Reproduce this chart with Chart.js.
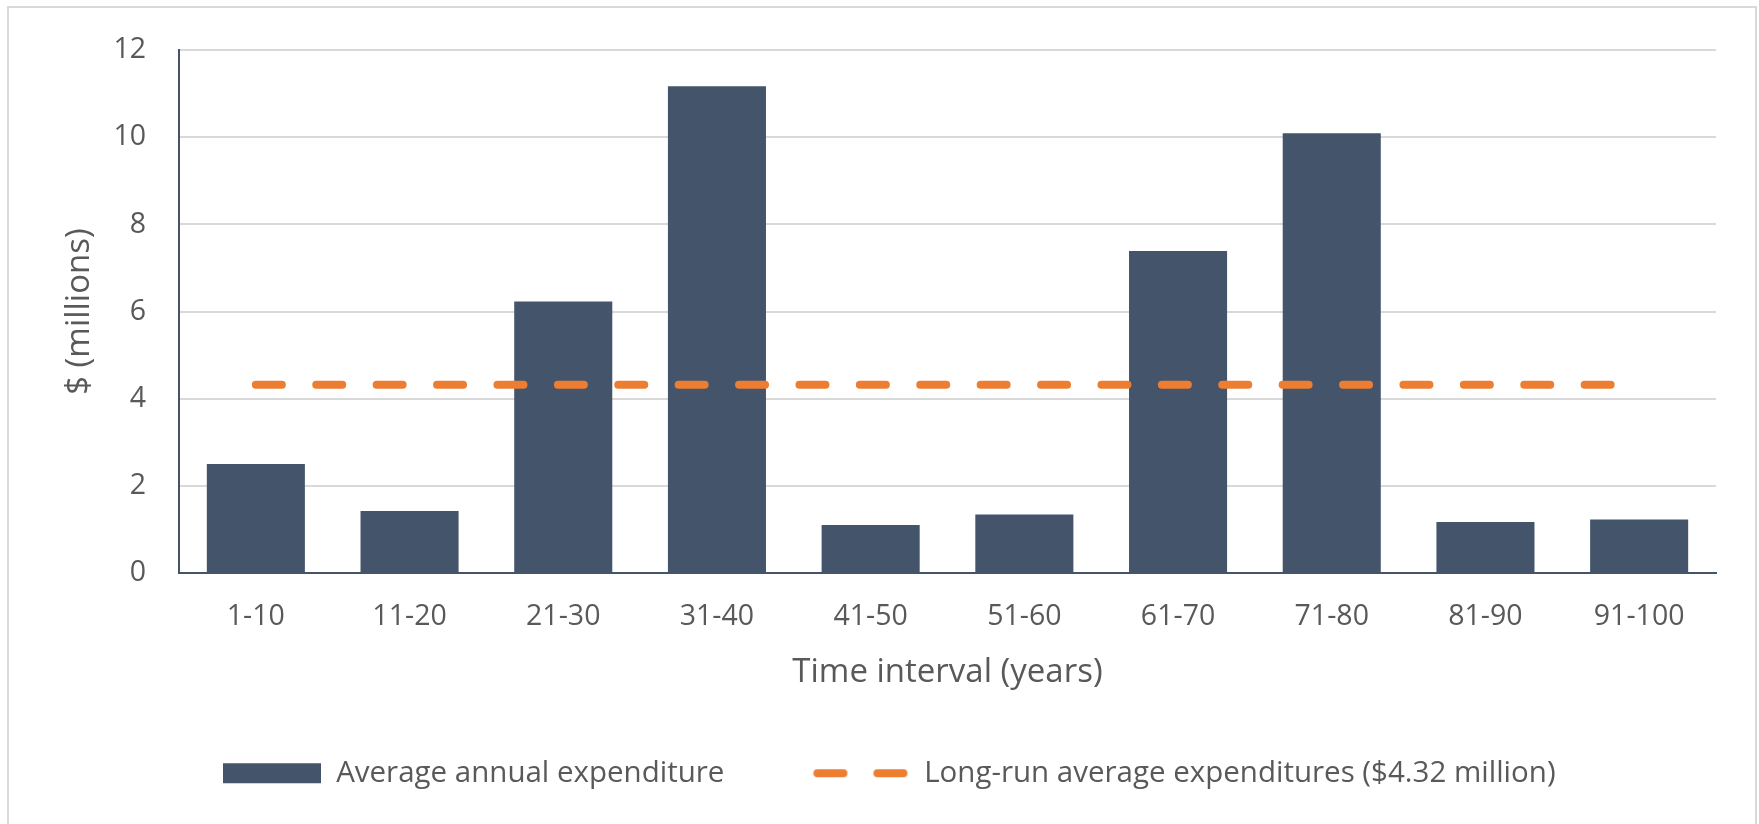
<!DOCTYPE html>
<html>
<head>
<meta charset="utf-8">
<title>Average annual expenditure by time interval</title>
<script src="https://cdn.jsdelivr.net/npm/chart.js@4/dist/chart.umd.min.js"></script>
<style>
  html, body { margin: 0; padding: 0; background: #fff; overflow: hidden; }
  #wrap { position: relative; width: 1759px; height: 824px; }
  #frame { position: absolute; left: 7px; top: 6px; width: 1746px; height: 900px; border: 2px solid #d9d9d9; }
  #chart { position: absolute; left: 0; top: 0; }
</style>
</head>
<body>
<div id="wrap">
  <div id="frame"></div>
  <canvas id="chart" width="1759" height="824"></canvas>
</div>
<script>
// Chart data
const intervals = ['1-10', '11-20', '21-30', '31-40', '41-50', '51-60', '61-70', '71-80', '81-90', '91-100'];
const annualExpenditure = [2.5, 1.42, 6.23, 11.17, 1.1, 1.34, 7.39, 10.09, 1.17, 1.23];
const longRunAverage = [4.32, 4.32, 4.32, 4.32, 4.32, 4.32, 4.32, 4.32, 4.32, 4.32];
const barLabel = 'Average annual expenditure';
const lineLabel = 'Long-run average expenditures ($4.32 million)';

const slate = '#44546A';
const orange = '#ED7D31';
const textGrey = '#595959';
const family = '"Open Sans", sans-serif';
const tickFont = { family, size: 28.5 };
const titleFont = { family, size: 33 };
const legendFont = { family, size: 29.5 };

// Legend swatches: a solid block and two rounded dashes
function makeSwatch(draw) {
  const c = document.createElement('canvas');
  c.width = 98;
  c.height = 22;
  draw(c.getContext('2d'));
  return c;
}
const barSwatch = makeSwatch(ctx => {
  ctx.fillStyle = slate;
  ctx.fillRect(0, 1, 98, 20);
});
const lineSwatch = makeSwatch(ctx => {
  ctx.strokeStyle = orange;
  ctx.lineWidth = 8;
  ctx.lineCap = 'round';
  ctx.beginPath();
  ctx.moveTo(6, 11); ctx.lineTo(32, 11);
  ctx.moveTo(66, 11); ctx.lineTo(92, 11);
  ctx.stroke();
});
const swatches = [barSwatch, lineSwatch];

const ctx = document.getElementById('chart').getContext('2d');
new Chart(ctx, {
  type: 'bar',
  data: {
    labels: intervals,
    datasets: [
      {
        label: barLabel,
        data: annualExpenditure,
        backgroundColor: slate,
        borderWidth: 0,
        categoryPercentage: 1,
        barPercentage: 0.638,
        order: 1
      },
      {
        type: 'line',
        label: lineLabel,
        data: longRunAverage,
        borderColor: orange,
        borderWidth: 8,
        borderDash: [26, 34.4],
        borderCapStyle: 'round',
        pointRadius: 0,
        fill: false,
        order: 0
      }
    ]
  },
  options: {
    responsive: false,
    animation: false,
    layout: {
      padding: { left: 63, right: 43, top: 48, bottom: 26 }
    },
    plugins: {
      tooltip: { enabled: false },
      legend: {
        position: 'bottom',
        labels: {
          font: legendFont,
          color: textGrey,
          usePointStyle: true,
          pointStyleWidth: 98,
          padding: 87,
          generateLabels(chart) {
            const items = Chart.defaults.plugins.legend.labels.generateLabels(chart);
            items.sort((a, b) => a.datasetIndex - b.datasetIndex);
            items.forEach(item => { item.pointStyle = swatches[item.datasetIndex]; });
            return items;
          }
        }
      }
    },
    scales: {
      x: {
        grid: { display: false, drawTicks: false },
        border: { display: true, color: slate, width: 2 },
        ticks: { font: tickFont, color: textGrey, padding: 27 },
        title: {
          display: true,
          text: 'Time interval (years)',
          font: titleFont,
          color: textGrey,
          padding: { top: 0, bottom: -21 }
        },
        afterFit(scale) { scale.height = 98.5; }
      },
      y: {
        min: 0,
        max: 12,
        ticks: { stepSize: 2, font: tickFont, color: textGrey, padding: 33 },
        grid: { color: '#D9D9D9', lineWidth: 2, drawTicks: false },
        border: { display: true, color: slate, width: 2 },
        title: {
          display: true,
          text: '$ (millions)',
          font: titleFont,
          color: textGrey,
          padding: { top: -3, bottom: 0 }
        },
        afterFit(scale) { scale.width = 116; }
      }
    }
  }
});
</script>
</body>
</html>
